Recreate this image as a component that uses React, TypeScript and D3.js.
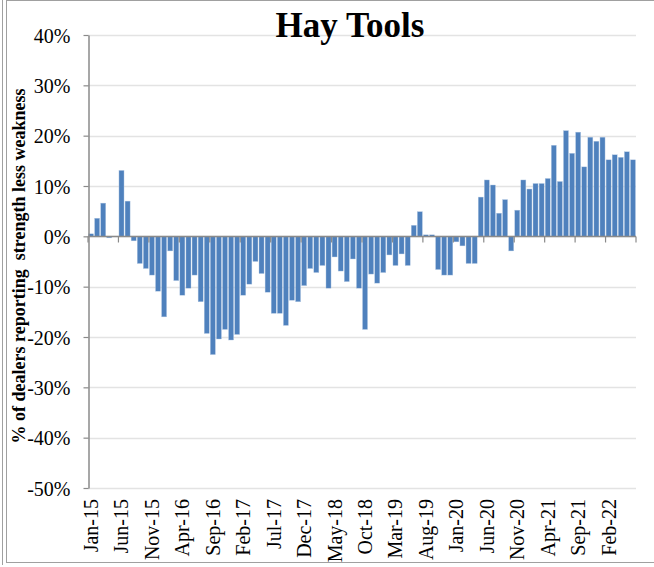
import React, { useEffect, useRef } from 'react';
import * as d3 from 'd3';

// monthly values, Jan-15 .. Jun-22 (% of dealers, strength less weakness)
const monthNames = ['Jan', 'Feb', 'Mar', 'Apr', 'May', 'Jun', 'Jul', 'Aug', 'Sep', 'Oct', 'Nov', 'Dec'];
const years = ['15', '16', '17', '18', '19', '20', '21', '22'];

const values = [
  0.5, 3.6, 6.6, -0.3, 0, 13.1, 7.0, -0.9, -5.4, -6.4, -7.7, -10.9,
  -16.0, -2.9, -8.8, -11.7, -10.3, -7.7, -13.0, -19.3, -23.5, -20.4, -18.5, -20.6,
  -19.5, -11.7, -9.5, -5.0, -7.4, -11.1, -15.3, -15.3, -17.7, -12.7, -13.0, -9.8,
  -6.4, -7.2, -5.8, -10.3, -4.1, -6.9, -9.0, -4.5, -10.3, -18.5, -7.5, -9.3,
  -7.2, -3.7, -5.8, -3.5, -5.8, 2.2, 4.9, 0.3, 0.3, -6.6, -7.7, -7.7,
  -1.1, -1.9, -5.4, -5.4, 7.8, 11.2, 10.2, 4.6, 7.3, -2.9, 5.2, 11.2,
  9.4, 10.5, 10.5, 11.5, 18.1, 10.9, 21.0, 16.5, 20.7, 13.8, 19.7, 18.9,
  19.7, 15.2, 16.2, 15.7, 16.8, 15.2,
];

const tickLabels = [
  'Jan-15', 'Jun-15', 'Nov-15', 'Apr-16', 'Sep-16', 'Feb-17', 'Jul-17', 'Dec-17', 'May-18',
  'Oct-18', 'Mar-19', 'Aug-19', 'Jan-20', 'Jun-20', 'Nov-20', 'Apr-21', 'Sep-21', 'Feb-22',
];

const yTicks = [40, 30, 20, 10, 0, -10, -20, -30, -40, -50];

const categories = years.flatMap((y) => monthNames.map((m) => `${m}-${y}`)).slice(0, values.length);

const App = () => {
  const svgRef = useRef<SVGSVGElement>(null);

  useEffect(() => {
    const svg = d3.select(svgRef.current);
    svg.selectAll('*').remove();
    const width = 654;
    const height = 567;
    const left = 88;
    const right = 636;
    const top = 35;
    const bottom = 488;
    const font = '"Liberation Serif", "Times New Roman", serif';

    // chart frame
    svg.append('line').attr('x1', 2.5).attr('x2', 2.5).attr('y1', 0).attr('y2', 565)
      .attr('stroke', '#a0a0a0').attr('stroke-width', 1);
    svg.append('rect').attr('x', 6.5).attr('y', 0.5).attr('width', 700).attr('height', 562)
      .attr('fill', 'none').attr('stroke', '#a0a0a0').attr('stroke-width', 1);

    const x = d3.scaleBand<string>().domain(categories).range([left, right]).paddingInner(0.17).paddingOuter(0.085);
    const xb = d3.scaleLinear().domain([0, categories.length]).range([left, right]);
    const y = d3.scaleLinear().domain([-50, 40]).range([bottom, top]);

    // gridlines
    svg.append('g')
      .selectAll('line')
      .data(yTicks)
      .enter()
      .append('line')
      .attr('x1', left)
      .attr('x2', right)
      .attr('y1', (d) => Math.round(y(d)) + 0.5)
      .attr('y2', (d) => Math.round(y(d)) + 0.5)
      .attr('stroke', '#e3e3e3')
      .attr('stroke-width', 1.5);

    // bars
    svg.append('g')
      .selectAll('rect')
      .data(values)
      .enter()
      .append('rect')
      .attr('x', (d, i) => x(categories[i]) as number)
      .attr('y', (d) => y(Math.max(0, d)))
      .attr('width', x.bandwidth())
      .attr('height', (d) => Math.abs(y(d) - y(0)))
      .attr('fill', '#4f81bd')
      .attr('stroke', '#b9cde5')
      .attr('stroke-width', 0.4);

    const axisColor = '#8a8a8a';

    // y axis
    const yAxis = svg.append('g').attr('transform', `translate(${left + 0.5},0)`)
      .call(d3.axisLeft(y).tickValues(yTicks).tickSize(5).tickSizeOuter(0).tickFormat((d) => `${d}%`));
    yAxis.select('.domain').attr('stroke', axisColor).attr('stroke-width', 1.5);
    yAxis.selectAll('line').attr('stroke', axisColor).attr('stroke-width', 1.2);
    yAxis.selectAll('text')
      .attr('x', -18)
      .attr('dy', '0.35em')
      .style('font-family', font)
      .style('font-size', '20px')
      .style('fill', '#000');

    // x axis along zero
    const y0 = Math.round(y(0)) + 0.5;
    svg.append('line').attr('x1', left).attr('x2', right).attr('y1', y0).attr('y2', y0)
      .attr('stroke', axisColor).attr('stroke-width', 1.5);
    svg.append('g')
      .selectAll('line')
      .data(d3.range(0, categories.length + 1, 5))
      .enter()
      .append('line')
      .attr('x1', (d) => xb(d))
      .attr('x2', (d) => xb(d))
      .attr('y1', y0)
      .attr('y2', y0 + 6)
      .attr('stroke', axisColor)
      .attr('stroke-width', 1.2);

    // x tick labels, rotated
    svg.append('g')
      .selectAll('text')
      .data(tickLabels)
      .enter()
      .append('text')
      .attr('transform', (d) => {
        const cx = (x(d) as number) + x.bandwidth() / 2;
        return `translate(${cx},${bottom + 11}) rotate(-90)`;
      })
      .attr('text-anchor', 'end')
      .attr('dy', '0.35em')
      .text((d) => d)
      .style('font-family', font)
      .style('font-size', '20px')
      .style('fill', '#000');

    // y axis title
    svg.append('text')
      .attr('transform', `translate(19,${266}) rotate(-90)`)
      .attr('text-anchor', 'middle')
      .attr('dy', '0.35em')
      .text('% of dealers reporting  strength less weakness')
      .style('white-space', 'pre')
      .style('font-family', font)
      .style('font-weight', 'bold')
      .style('font-size', '18px')
      .style('fill', '#000');

    // title
    svg.append('text')
      .attr('x', 350)
      .attr('y', 37)
      .attr('text-anchor', 'middle')
      .text('Hay Tools')
      .style('font-family', font)
      .style('font-weight', 'bold')
      .style('font-size', '35px')
      .style('fill', '#000');

    svg.attr('width', width).attr('height', height);
  }, []);

  return <svg ref={svgRef} style={{ position: 'absolute', left: 0, top: 0, background: '#fff' }}></svg>;
};

export default App;
